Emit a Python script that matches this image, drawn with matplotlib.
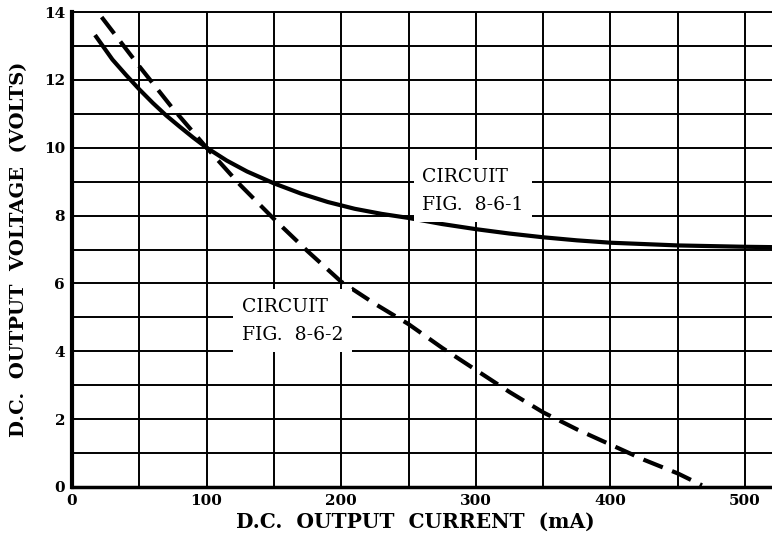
import matplotlib
matplotlib.use("Agg")
import matplotlib.pyplot as plt
import numpy as np

# readings taken off the printed curves (mA, volts)
current_fig1 = [18, 30, 40, 50, 60, 70, 80, 90, 100, 115, 130, 150, 170, 190, 210, 230, 250,
                275, 300, 325, 350, 375, 400, 450, 500, 520]
voltage_fig1 = [13.27, 12.6, 12.15, 11.72, 11.32, 10.95, 10.62, 10.3, 10.0, 9.62, 9.3, 8.95,
                8.65, 8.4, 8.2, 8.05, 7.93, 7.75, 7.6, 7.47, 7.36, 7.27, 7.2, 7.12, 7.08, 7.07]

current_fig2 = [22, 50, 75, 100, 125, 150, 175, 200, 225, 250, 275, 300, 325, 350, 375, 400,
                425, 450, 468]
voltage_fig2 = [13.85, 12.4, 11.15, 10.0, 8.9, 7.9, 6.95, 6.05, 5.4, 4.8, 4.1, 3.45, 2.8, 2.2,
                1.7, 1.25, 0.8, 0.4, 0.05]

x_ticks = [0, 100, 200, 300, 400, 500]
y_ticks = [0, 2, 4, 6, 8, 10, 12, 14]

serif = "DejaVu Serif"

fig = plt.figure(figsize=(7.72, 5.41), dpi=100)
ax = fig.add_axes([72 / 772, 1 - 487 / 541, 700 / 772, 475 / 541])

ax.set_xlim(0, 520)
ax.set_ylim(0, 14)

# grid every 50 mA / 1 V
for gx in np.arange(50, 520, 50):
    ax.axvline(gx, color="black", lw=1.4, zorder=1)
for gy in np.arange(1, 15, 1):
    ax.axhline(gy, color="black", lw=1.4, zorder=1, clip_on=False)

ax.plot(current_fig1, voltage_fig1, color="black", lw=3.0, solid_joinstyle="round", zorder=3)
ax.plot(current_fig2, voltage_fig2, color="black", lw=3.0, dashes=(5, 2.4), zorder=3)

box = dict(facecolor="white", edgecolor="none", boxstyle="square,pad=0.45")
ax.text(260, 8.72, "CIRCUIT\nFIG.  8-6-1", family=serif, fontsize=13.5, va="center", ha="left",
        linespacing=1.7, zorder=4, bbox=box)
ax.text(126, 4.9, "CIRCUIT\nFIG.  8-6-2", family=serif, fontsize=13.5, va="center", ha="left",
        linespacing=1.7, zorder=4, bbox=box)

for side in ["top", "right"]:
    ax.spines[side].set_visible(False)
ax.spines["left"].set_linewidth(3.0)
ax.spines["bottom"].set_linewidth(2.5)

ax.set_xticks(x_ticks)
ax.set_yticks(y_ticks)
ax.set_xticklabels([str(v) for v in x_ticks], family=serif, fontweight="bold", fontsize=11)
ax.set_yticklabels([str(v) for v in y_ticks], family=serif, fontweight="bold", fontsize=11)
ax.tick_params(length=0, pad=5)

ax.set_xlabel("D.C.  OUTPUT  CURRENT  (mA)", family=serif, fontweight="bold", fontsize=14.5)
ax.xaxis.set_label_coords(0.49, -0.053)
ax.set_ylabel("D.C.  OUTPUT  VOLTAGE  (VOLTS)", family=serif, fontweight="bold", fontsize=14, labelpad=11)

fig.savefig("out.png", dpi=100)
